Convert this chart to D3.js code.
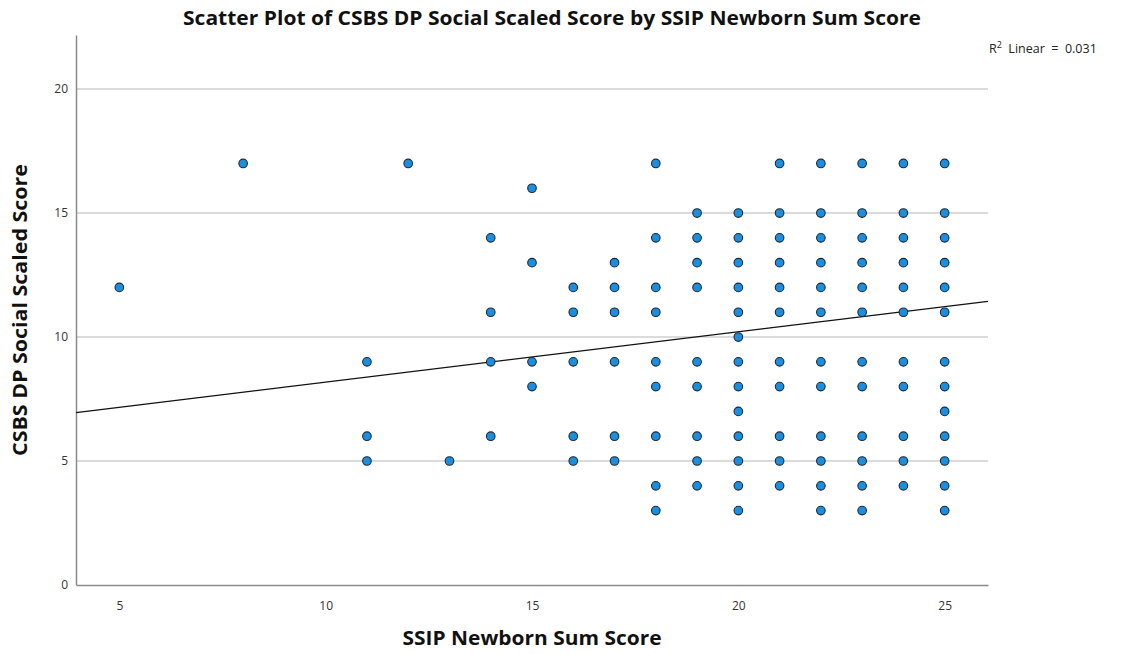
<!DOCTYPE html>
<html>
<head>
<meta charset="utf-8">
<script src="https://cdn.jsdelivr.net/npm/d3@7"></script>
<style>
  body { margin: 0; background: #fff; }
  text { font-family: "Open Sans", "DejaVu Sans", sans-serif; }
</style>
</head>
<body>
<svg id="drawing_region"></svg>
<script>
// SSIP newborn sum score (x) and CSBS DP social scaled score values seen at each x
const xValues = [5, 8, 11, 12, 13, 14, 15, 16, 17, 18, 19, 20, 21, 22, 23, 24, 25];
const yByX = [
    [12],
    [17],
    [9, 6, 5],
    [17],
    [5],
    [14, 11, 9, 6],
    [16, 13, 9, 8],
    [12, 11, 9, 6, 5],
    [13, 12, 11, 9, 6, 5],
    [17, 14, 12, 11, 9, 8, 6, 4, 3],
    [15, 14, 13, 12, 9, 8, 6, 5, 4],
    [15, 14, 13, 12, 11, 10, 9, 8, 7, 6, 5, 4, 3],
    [17, 15, 14, 13, 12, 11, 9, 8, 6, 5, 4],
    [17, 15, 14, 13, 12, 11, 9, 8, 6, 5, 4, 3],
    [17, 15, 14, 13, 12, 11, 9, 8, 6, 5, 4, 3],
    [17, 15, 14, 13, 12, 11, 9, 8, 6, 5, 4],
    [17, 15, 14, 13, 12, 11, 9, 8, 7, 6, 5, 4, 3]
];
const xTicks = [5, 10, 15, 20, 25];
const yTicks = [0, 5, 10, 15, 20];
const fitIntercept = 6.15;
const fitSlope = 0.203;
const r2Text = "0.031";

const points = [];
xValues.forEach((x, i) => yByX[i].forEach(y => points.push({x: x, y: y})));

const config = {
    width: 1125,
    height: 654,
    margin: {top: 35, right: 137, bottom: 69, left: 76}
};

const svg = d3.select('#drawing_region')
    .attr('width', config.width)
    .attr('height', config.height);

const inner_width = config.width - config.margin.left - config.margin.right;
const inner_height = config.height - config.margin.top - config.margin.bottom;

const xscale = d3.scaleLinear()
    .domain([3.95, 26.05])
    .range([config.margin.left, config.margin.left + inner_width]);

const yscale = d3.scaleLinear()
    .domain([0, 22.18])
    .range([config.margin.top + inner_height, config.margin.top]);

// grid lines
svg.append('g')
    .selectAll('line')
    .data(yTicks.filter(d => d > 0))
    .enter()
    .append('line')
    .attr('x1', xscale.range()[0])
    .attr('x2', xscale.range()[1])
    .attr('y1', d => yscale(d))
    .attr('y2', d => yscale(d))
    .attr('stroke', '#cfcfcf')
    .attr('stroke-width', 1.5);

// axes
const xaxis = d3.axisBottom(xscale).tickValues(xTicks).tickSize(0).tickPadding(16);
const yaxis = d3.axisLeft(yscale).tickValues(yTicks).tickSize(0).tickPadding(8);

const xaxis_group = svg.append('g')
    .attr('transform', `translate(0, ${yscale(0)})`)
    .call(xaxis);
const yaxis_group = svg.append('g')
    .attr('transform', `translate(${xscale.range()[0]}, 0)`)
    .call(yaxis);

[xaxis_group, yaxis_group].forEach(g => {
    g.select('.domain').attr('stroke', '#8a8a8a').attr('stroke-width', 1.5);
    g.selectAll('text')
        .attr('font-size', '12px')
        .attr('fill', '#333')
        .attr('font-family', '"Open Sans", sans-serif');
});

// fit line
svg.append('line')
    .attr('x1', xscale(3.95))
    .attr('y1', yscale(fitIntercept + fitSlope * 3.95))
    .attr('x2', xscale(26.05))
    .attr('y2', yscale(fitIntercept + fitSlope * 26.05))
    .attr('stroke', '#111')
    .attr('stroke-width', 1.3);

// points
svg.append('g')
    .selectAll('circle')
    .data(points)
    .enter()
    .append('circle')
    .attr('cx', d => xscale(d.x))
    .attr('cy', d => yscale(d.y))
    .attr('r', 4.3)
    .attr('fill', '#1b8ee0')
    .attr('stroke', '#1a2a36')
    .attr('stroke-width', 1.1);

// title and labels
svg.append('text')
    .attr('x', 552)
    .attr('y', 25)
    .attr('text-anchor', 'middle')
    .attr('font-size', '19px')
    .attr('font-weight', 'bold')
    .attr('fill', '#111')
    .attr('textLength', 738)
    .attr('lengthAdjust', 'spacingAndGlyphs')
    .text('Scatter Plot of CSBS DP Social Scaled Score by SSIP Newborn Sum Score');

svg.append('text')
    .attr('x', 532)
    .attr('y', 645)
    .attr('text-anchor', 'middle')
    .attr('font-size', '20px')
    .attr('font-weight', 'bold')
    .attr('fill', '#111')
    .attr('textLength', 259)
    .attr('lengthAdjust', 'spacingAndGlyphs')
    .text('SSIP Newborn Sum Score');

svg.append('text')
    .attr('transform', 'translate(27, 310) rotate(-90)')
    .attr('text-anchor', 'middle')
    .attr('font-size', '20px')
    .attr('font-weight', 'bold')
    .attr('fill', '#111')
    .attr('textLength', 292)
    .attr('lengthAdjust', 'spacingAndGlyphs')
    .text('CSBS DP Social Scaled Score');

const r2 = svg.append('text')
    .attr('x', 989)
    .attr('y', 53)
    .attr('font-size', '12.5px')
    .attr('fill', '#222');
r2.append('tspan').text('R');
r2.append('tspan').attr('dy', -5).attr('font-size', '9px').text('2');
r2.append('tspan').attr('dy', 5).attr('xml:space', 'preserve').text('\u00a0 Linear\u00a0 =\u00a0 ' + r2Text);
</script>
</body>
</html>
